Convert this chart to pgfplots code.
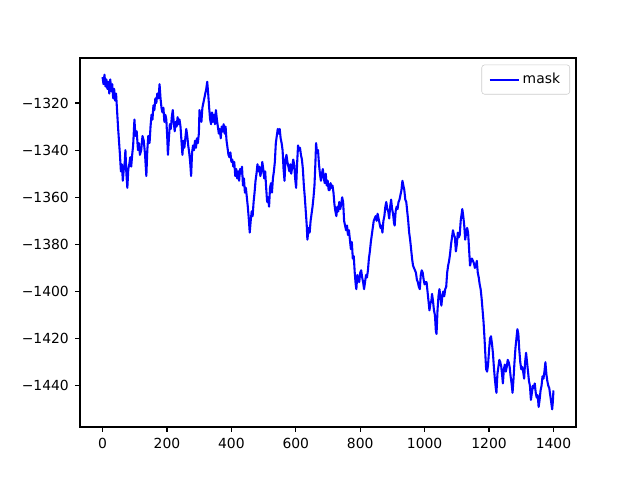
\documentclass[border=0pt]{standalone}
\usepackage{pgfplots}
\pgfplotsset{compat=1.18}
\usetikzlibrary{calc}
\usepackage{fontspec}
\setmainfont{DejaVu Sans}
\begin{document}
\begin{tikzpicture}
\begin{axis}[
  scale only axis,
  width=357.12pt, height=265.68pt,
  xmin=-70, xmax=1470, ymin=-1457.5, ymax=-1300.9,
  tick pos=left,
  tick align=outside,
  major tick length=3.5pt,
  every tick/.style={black, line width=0.8pt},
  axis line style={line width=0.8pt},
  xtick={0,200,400,600,800,1000,1200,1400},
  xticklabels={0,200,400,600,800,1000,1200,1400},
  ytick={-1440,-1420,-1400,-1380,-1360,-1340,-1320},
  yticklabels={−1440,−1420,−1400,−1380,−1360,−1340,−1320},
  ticklabel style={font=\fontsize{10}{12}\selectfont},
  xticklabel style={yshift=-1pt},
  yticklabel style={xshift=-1pt},
  legend style={at={(0.988,0.982)}, anchor=north east, draw=black!20, rounded corners=2pt,
    font=\fontsize{10}{12}\selectfont, inner xsep=5pt, inner ysep=4pt},
  legend cell align=left,
  legend image code/.code={\draw[#1] (0pt,0pt) -- (21pt,0pt);},
]
\addplot[color=blue, line width=1.5pt, line join=round] coordinates {
(0,-1309) (3,-1312) (6,-1308) (9,-1313) (12,-1310) (15,-1314) (18,-1311) (21,-1316) (24,-1310) (27,-1315)
(30,-1312) (33,-1318) (36,-1314) (39,-1319) (42,-1316) (45,-1323) (48,-1330) (51,-1336) (54,-1342) (57,-1349)
(60,-1346) (63,-1353) (66,-1348) (69,-1345) (71,-1340) (74,-1350) (77,-1356) (80,-1348) (83,-1346) (86,-1343)
(89,-1347) (92,-1342) (95,-1338) (99,-1327) (102,-1334) (106,-1332) (110,-1340) (113,-1337) (116,-1342) (120,-1340)
(124,-1334) (128,-1336) (132,-1342) (136,-1351) (139,-1340) (142,-1334) (146,-1337) (149,-1330) (152,-1325) (155,-1327)
(158,-1321) (161,-1323) (164,-1318) (167,-1320) (170,-1316) (174,-1318) (177,-1312) (180,-1318) (183,-1322) (186,-1324)
(189,-1322) (192,-1328) (195,-1325) (198,-1327) (201,-1335) (203,-1342) (206,-1335) (209,-1329) (212,-1331) (215,-1326)
(218,-1323) (221,-1328) (224,-1332) (227,-1328) (230,-1330) (233,-1326) (236,-1329) (239,-1327) (242,-1330) (245,-1336)
(248,-1342) (251,-1336) (254,-1339) (257,-1335) (260,-1331) (263,-1334) (266,-1338) (269,-1341) (272,-1345) (275,-1351)
(278,-1341) (281,-1338) (284,-1340) (287,-1336) (290,-1339) (293,-1335) (296,-1337) (299,-1333) (301,-1323) (304,-1326)
(307,-1328) (310,-1322) (313,-1320) (316,-1318) (319,-1316) (322,-1314) (325,-1311) (328,-1316) (331,-1322) (334,-1327)
(337,-1329) (340,-1324) (343,-1328) (346,-1325) (349,-1329) (352,-1323) (355,-1327) (358,-1330) (361,-1333) (364,-1331)
(367,-1335) (370,-1330) (373,-1332) (376,-1329) (379,-1333) (382,-1330) (385,-1336) (388,-1339) (391,-1342) (394,-1343)
(397,-1341) (400,-1345) (403,-1344) (406,-1347) (409,-1345) (412,-1351) (415,-1348) (418,-1352) (421,-1349) (424,-1353)
(427,-1348) (430,-1350) (433,-1347) (436,-1355) (439,-1352) (442,-1358) (445,-1356) (448,-1360) (451,-1364) (454,-1369)
(457,-1375) (460,-1370) (463,-1366) (466,-1368) (469,-1362) (472,-1358) (475,-1353) (478,-1350) (481,-1346) (484,-1349)
(487,-1347) (490,-1351) (493,-1349) (496,-1345) (499,-1348) (502,-1352) (505,-1349) (508,-1356) (511,-1362) (514,-1360)
(517,-1364) (520,-1356) (523,-1354) (526,-1358) (529,-1352) (532,-1349) (535,-1345) (538,-1337) (541,-1334) (544,-1331)
(547,-1333) (550,-1331) (553,-1335) (556,-1337) (559,-1340) (562,-1348) (565,-1353) (568,-1344) (571,-1342) (574,-1345)
(577,-1347) (580,-1349) (583,-1346) (586,-1350) (589,-1347) (592,-1344) (595,-1346) (598,-1352) (601,-1356) (604,-1346)
(607,-1338) (610,-1340) (613,-1339) (616,-1342) (619,-1344) (622,-1348) (625,-1355) (628,-1360) (631,-1366) (634,-1372)
(636,-1378) (640,-1373) (643,-1375) (646,-1370) (649,-1367) (652,-1364) (655,-1360) (658,-1355) (661,-1345) (663,-1337)
(666,-1341) (669,-1340) (672,-1346) (675,-1350) (678,-1353) (681,-1350) (684,-1348) (687,-1352) (690,-1354) (693,-1350)
(696,-1355) (699,-1353) (702,-1357) (705,-1357) (708,-1354) (711,-1356) (714,-1355) (717,-1358) (720,-1363) (723,-1366)
(726,-1368) (729,-1364) (732,-1366) (735,-1362) (738,-1365) (741,-1363) (744,-1360) (747,-1362) (750,-1370) (753,-1372)
(756,-1374) (759,-1372) (762,-1376) (765,-1374) (768,-1378) (771,-1382) (774,-1379) (777,-1386) (780,-1385) (783,-1392)
(786,-1397) (788,-1399) (791,-1393) (794,-1395) (797,-1396) (800,-1392) (803,-1391) (806,-1394) (809,-1396) (812,-1399)
(815,-1396) (818,-1393) (821,-1394) (824,-1391) (827,-1386) (830,-1383) (833,-1379) (836,-1376) (839,-1373) (842,-1370)
(845,-1369) (848,-1368) (851,-1370) (854,-1367) (857,-1369) (860,-1371) (863,-1373) (866,-1372) (869,-1375) (872,-1370)
(875,-1368) (878,-1364) (881,-1362) (884,-1365) (887,-1366) (890,-1369) (893,-1364) (896,-1361) (899,-1365) (902,-1367)
(905,-1371) (907,-1372) (910,-1366) (913,-1364) (916,-1365) (919,-1362) (922,-1361) (925,-1359) (928,-1357) (931,-1353)
(934,-1355) (937,-1357) (940,-1361) (943,-1362) (946,-1366) (949,-1370) (952,-1375) (955,-1378) (958,-1382) (961,-1386)
(964,-1389) (967,-1390) (970,-1391) (973,-1392) (976,-1395) (979,-1396) (982,-1398) (985,-1399) (988,-1393) (991,-1391)
(994,-1392) (997,-1395) (1000,-1397) (1003,-1396) (1006,-1396) (1009,-1400) (1012,-1404) (1015,-1408) (1018,-1405) (1021,-1404)
(1023,-1401) (1026,-1404) (1029,-1408) (1032,-1410) (1035,-1417) (1037,-1418) (1040,-1408) (1043,-1402) (1046,-1399) (1049,-1402)
(1052,-1406) (1055,-1402) (1058,-1400) (1061,-1402) (1064,-1399) (1067,-1398) (1070,-1392) (1073,-1389) (1076,-1387) (1079,-1384)
(1082,-1380) (1085,-1377) (1088,-1374) (1091,-1376) (1094,-1377) (1097,-1383) (1100,-1380) (1103,-1375) (1106,-1377) (1109,-1376)
(1112,-1370) (1115,-1367) (1117,-1365) (1120,-1368) (1123,-1372) (1126,-1378) (1129,-1375) (1132,-1373) (1135,-1375) (1138,-1382)
(1141,-1389) (1144,-1387) (1147,-1386) (1150,-1387) (1153,-1388) (1156,-1390) (1159,-1389) (1162,-1387) (1165,-1392) (1168,-1394)
(1171,-1397) (1174,-1399) (1177,-1403) (1180,-1408) (1183,-1413) (1186,-1420) (1189,-1428) (1191,-1433) (1194,-1434) (1197,-1431)
(1200,-1425) (1203,-1420) (1206,-1419) (1209,-1422) (1212,-1426) (1215,-1432) (1218,-1437) (1221,-1441) (1223,-1443) (1226,-1435)
(1229,-1432) (1232,-1429) (1235,-1430) (1238,-1432) (1241,-1436) (1243,-1439) (1246,-1433) (1249,-1431) (1252,-1434) (1255,-1432)
(1258,-1429) (1261,-1430) (1264,-1432) (1267,-1436) (1270,-1439) (1273,-1443) (1276,-1437) (1279,-1430) (1282,-1424) (1285,-1420)
(1288,-1416) (1291,-1418) (1294,-1425) (1297,-1430) (1300,-1433) (1303,-1432) (1306,-1434) (1309,-1437) (1312,-1430) (1315,-1426)
(1318,-1430) (1321,-1434) (1324,-1438) (1327,-1440) (1330,-1446) (1333,-1443) (1336,-1440) (1339,-1441) (1342,-1439) (1345,-1443)
(1348,-1445) (1351,-1444) (1354,-1449) (1357,-1446) (1360,-1442) (1363,-1440) (1366,-1436) (1369,-1437) (1372,-1434) (1375,-1430)
(1378,-1435) (1381,-1438) (1384,-1440) (1387,-1441) (1390,-1444) (1393,-1447) (1396,-1450) (1398,-1447) (1400,-1442)
};
\addlegendentry{mask}
\end{axis}
\path ($(current axis.south west)+(-57.6pt,-38.16pt)$) rectangle ($(current axis.north east)+(46.08pt,41.76pt)$);
\end{tikzpicture}
\end{document}
